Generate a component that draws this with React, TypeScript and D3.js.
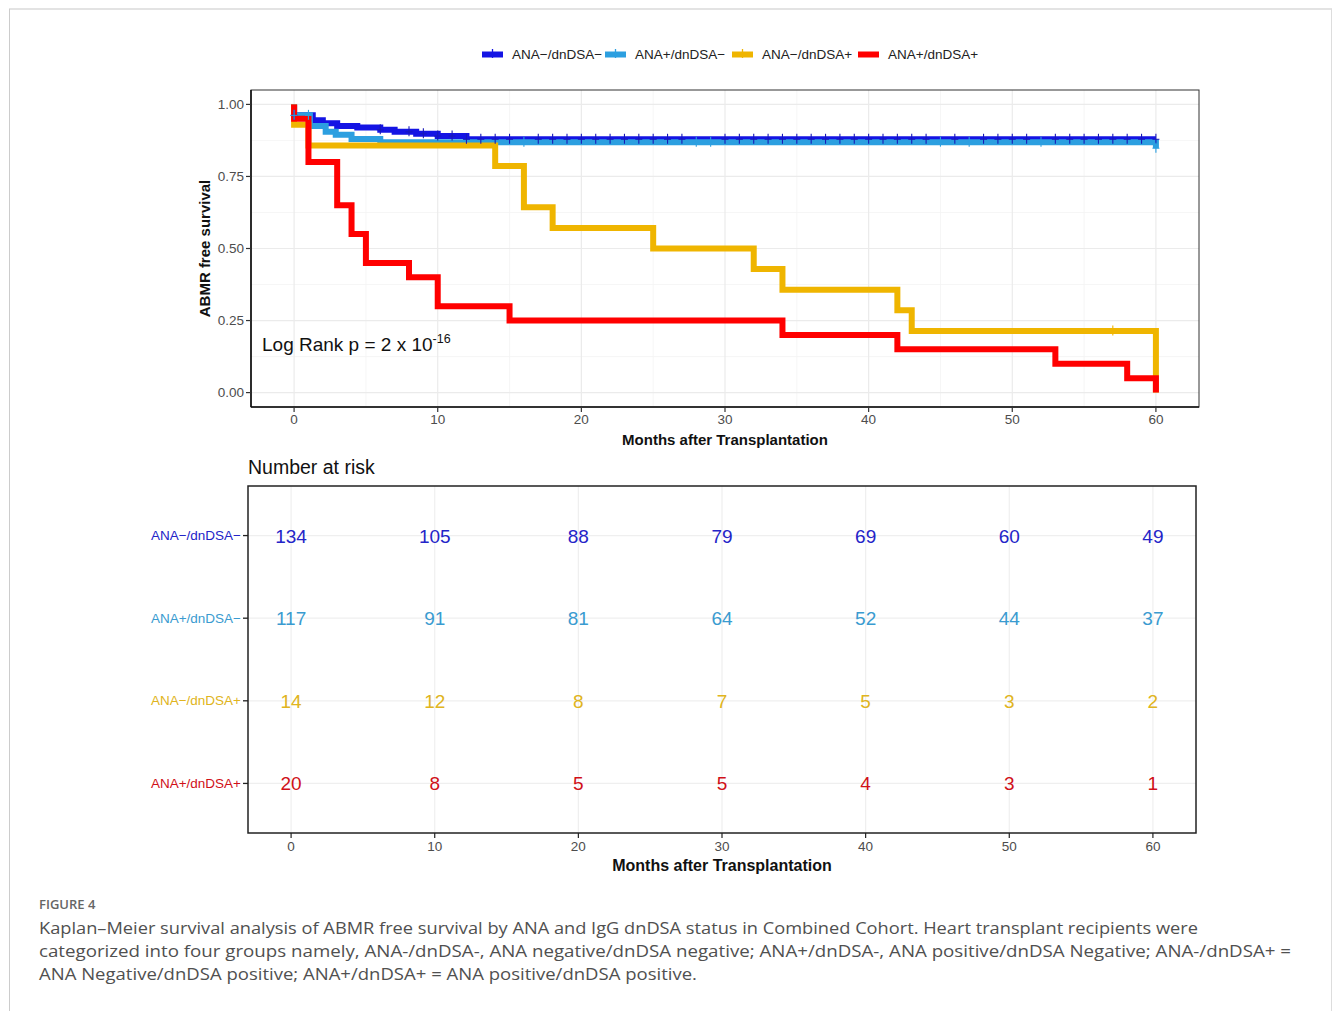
import * as d3 from 'd3';

const groups = ['ANA−/dnDSA−', 'ANA+/dnDSA−', 'ANA−/dnDSA+', 'ANA+/dnDSA+'];
const lineColors = ['#1414e4', '#2c9fe0', '#efb500', '#ff0000'];
const textColors = ['#2424c8', '#3a9bd0', '#e0b420', '#d01018'];

// event times (months) and survival right after each step
const blueTimes = [0, 1.3, 2, 3, 4.4, 6, 7, 8.5, 10, 12];
const blueSurv = [0.962, 0.945, 0.935, 0.925, 0.92, 0.912, 0.905, 0.898, 0.89, 0.879];
const lightTimes = [0, 1.1, 2.2, 2.9, 4, 6, 60];
const lightSurv = [0.962, 0.925, 0.905, 0.895, 0.88, 0.869, 0.848];
const yellowTimes = [0, 1, 14, 16, 18, 25, 32, 34, 42, 43, 60];
const yellowSurv = [0.929, 0.857, 0.786, 0.643, 0.571, 0.5, 0.429, 0.357, 0.286, 0.214, 0];
const redTimes = [0, 1, 3, 4, 5, 8, 10, 15, 34, 42, 53, 58, 60];
const redSurv = [0.95, 0.8, 0.65, 0.55, 0.45, 0.4, 0.3, 0.25, 0.2, 0.15, 0.1, 0.05, 0];

// censoring marks
const blueCensor = [0, 6, 8, 9, 10, 11, 12, 13, 14, 15, 17, 18, 19, 20, 21, 22, 23, 24, 25, 26, 27,
  30, 31, 32, 33, 34, 35, 36, 37, 38, 39, 40, 41, 42, 43, 44, 46, 48, 49, 50, 51, 53, 54, 55, 56, 57, 58, 59, 60];
const lightCensor = [0, 1, 16, 28, 29, 45, 47, 52, 60];
const yellowCensor = [57];
const redCensor: number[] = [];

const xTicks = [0, 10, 20, 30, 40, 50, 60];
const yTicks = [0, 0.25, 0.5, 0.75, 1];

// number at risk
const riskTimes = [0, 10, 20, 30, 40, 50, 60];
const riskBlue = [134, 105, 88, 79, 69, 60, 49];
const riskLight = [117, 91, 81, 64, 52, 44, 37];
const riskYellow = [14, 12, 8, 7, 5, 3, 2];
const riskRed = [20, 8, 5, 5, 4, 3, 1];

const captionTitle = 'FIGURE 4';
const captionLines = [
  'Kaplan–Meier survival analysis of ABMR free survival by ANA and IgG dnDSA status in Combined Cohort. Heart transplant recipients were',
  'categorized into four groups namely, ANA-/dnDSA-, ANA negative/dnDSA negative; ANA+/dnDSA-, ANA positive/dnDSA Negative; ANA-/dnDSA+ =',
  'ANA Negative/dnDSA positive; ANA+/dnDSA+ = ANA positive/dnDSA positive.',
];

const W = 1333;
const H = 1011;
const FONT = '"Liberation Sans", Arial, sans-serif';

export default function App() {
  const series = [
    { times: blueTimes, surv: blueSurv, censor: blueCensor },
    { times: lightTimes, surv: lightSurv, censor: lightCensor },
    { times: yellowTimes, surv: yellowSurv, censor: yellowCensor },
    { times: redTimes, surv: redSurv, censor: redCensor },
  ];
  const risk = [riskBlue, riskLight, riskYellow, riskRed];

  // KM panel
  const kmL = 251, kmR = 1199, kmT = 90, kmB = 407;
  const x = d3.scaleLinear().domain([-3, 63]).range([kmL, kmR]);
  const y = d3.scaleLinear().domain([-0.05, 1.05]).range([kmB, kmT]);

  // risk table panel
  const rtL = 248, rtR = 1196, rtT = 486, rtB = 833;
  const xr = d3.scaleLinear().domain([-3, 63]).range([rtL, rtR]);
  const yr = d3.scaleLinear().domain([0.4, 4.6]).range([rtT, rtB]);

  const stepPath = (times: number[], surv: number[]) => {
    let d = `M${x(0)},${y(1)}`;
    times.forEach((t, i) => { d += `H${x(t)}V${y(surv[i])}`; });
    d += `H${x(60)}`;
    return d;
  };
  const survAt = (times: number[], surv: number[], t: number) => {
    let s = 1;
    times.forEach((tt, i) => { if (tt <= t) s = surv[i]; });
    return s;
  };

  const minorX = d3.range(5, 60, 10);
  const minorY = [0.125, 0.375, 0.625, 0.875];

  const legendX = [482, 605, 732, 858];

  return (
    <div style={{ position: 'absolute', left: 0, top: 0 }}>
      <svg width={W} height={H} style={{ display: 'block', background: '#fff' }} fontFamily={FONT}>
        {/* outer frame */}
        <line x1={9} x2={1332} y1={9} y2={9} stroke="#e3e3e3" strokeWidth={2} />
        <line x1={9.5} x2={9.5} y1={9} y2={H} stroke="#cccccc" strokeWidth={1} />
        <line x1={1331.5} x2={1331.5} y1={9} y2={H} stroke="#dddddd" strokeWidth={1} />

        {/* legend */}
        {groups.map((g, i) => (
          <g key={g}>
            <line x1={legendX[i]} x2={legendX[i] + 21} y1={54.5} y2={54.5} stroke={lineColors[i]} strokeWidth={6} />
            {i < 3 && (
              <line x1={legendX[i] + 10.5} x2={legendX[i] + 10.5} y1={49} y2={58} stroke={lineColors[i]} strokeWidth={1.3} />
            )}
            <text x={legendX[i] + 30} y={58.5} fontSize={13.5} fill="#222">{g}</text>
          </g>
        ))}

        {/* KM gridlines */}
        {minorX.map(t => (
          <line key={'mx' + t} x1={x(t)} x2={x(t)} y1={kmT} y2={kmB} stroke="#f4f4f4" strokeWidth={0.8} />
        ))}
        {minorY.map(v => (
          <line key={'my' + v} x1={kmL} x2={kmR} y1={y(v)} y2={y(v)} stroke="#f4f4f4" strokeWidth={0.8} />
        ))}
        {xTicks.map(t => (
          <line key={'gx' + t} x1={x(t)} x2={x(t)} y1={kmT} y2={kmB} stroke="#ebebeb" strokeWidth={1.2} />
        ))}
        {yTicks.map(v => (
          <line key={'gy' + v} x1={kmL} x2={kmR} y1={y(v)} y2={y(v)} stroke="#ebebeb" strokeWidth={1.2} />
        ))}

        {/* survival curves */}
        {series.map((s, i) => (
          <path key={'c' + i} d={stepPath(s.times, s.surv)} fill="none" stroke={lineColors[i]}
            strokeWidth={6} strokeLinejoin="miter" strokeLinecap="butt" />
        ))}
        {series.map((s, i) => (
          <g key={'cs' + i}>
            {s.censor.map(t => {
              const cx = x(t), cy = y(survAt(s.times, s.surv, t));
              const c = i === 0 ? '#1818b8' : lineColors[i];
              return (
                <g key={t}>
                  <line x1={cx} x2={cx} y1={cy - 5.5} y2={cy + 4.5} stroke={c} strokeWidth={1.1} />
                  <line x1={cx - 3.5} x2={cx + 3.5} y1={cy} y2={cy} stroke={c} strokeWidth={1} />
                </g>
              );
            })}
          </g>
        ))}

        {/* KM frame and axes */}
        <rect x={kmL} y={kmT} width={kmR - kmL} height={kmB - kmT} fill="none" stroke="#333" strokeWidth={1} />
        <line x1={kmL} x2={kmL} y1={kmT} y2={kmB} stroke="#111" strokeWidth={1.6} />
        <line x1={kmL} x2={kmR} y1={kmB} y2={kmB} stroke="#111" strokeWidth={1.6} />
        {yTicks.map(v => (
          <g key={'yt' + v}>
            <line x1={kmL - 5} x2={kmL} y1={y(v)} y2={y(v)} stroke="#333" strokeWidth={1.2} />
            <text x={kmL - 7} y={y(v) + 4.5} textAnchor="end" fontSize={13.5} fill="#4d4d4d">{v.toFixed(2)}</text>
          </g>
        ))}
        {xTicks.map(t => (
          <g key={'xt' + t}>
            <line x1={x(t)} x2={x(t)} y1={kmB} y2={kmB + 5} stroke="#333" strokeWidth={1.2} />
            <text x={x(t)} y={kmB + 17} textAnchor="middle" fontSize={13.5} fill="#4d4d4d">{t}</text>
          </g>
        ))}
        <text x={725} y={445} textAnchor="middle" fontSize={15} fontWeight="bold" fill="#111">Months after Transplantation</text>
        <text transform={`translate(210,${(kmT + kmB) / 2}) rotate(-90)`} textAnchor="middle" fontSize={15} fontWeight="bold" fill="#111">ABMR free survival</text>
        <text x={262} y={351} fontSize={19} fill="#111">
          Log Rank p = 2 x 10<tspan dy={-8} fontSize={12.5}>-16</tspan>
        </text>

        {/* number at risk table */}
        <text x={248} y={474} fontSize={19.5} fill="#111">Number at risk</text>
        {riskTimes.map(t => (
          <line key={'rgx' + t} x1={xr(t)} x2={xr(t)} y1={rtT} y2={rtB} stroke="#efefef" strokeWidth={1.2} />
        ))}
        {groups.map((g, i) => (
          <line key={'rgy' + i} x1={rtL} x2={rtR} y1={yr(i + 1)} y2={yr(i + 1)} stroke="#efefef" strokeWidth={1.2} />
        ))}
        <rect x={rtL} y={rtT} width={rtR - rtL} height={rtB - rtT} fill="none" stroke="#222" strokeWidth={1.5} />
        {groups.map((g, i) => (
          <g key={'rl' + i}>
            <line x1={rtL - 5} x2={rtL} y1={yr(i + 1)} y2={yr(i + 1)} stroke="#222" strokeWidth={1.3} />
            <text x={rtL - 7} y={yr(i + 1) + 4.5} textAnchor="end" fontSize={13.5} fill={textColors[i]}>{g}</text>
            {riskTimes.map((t, j) => (
              <text key={t} x={xr(t)} y={yr(i + 1) + 7} textAnchor="middle" fontSize={19} fill={textColors[i]}>{risk[i][j]}</text>
            ))}
          </g>
        ))}
        {riskTimes.map(t => (
          <g key={'rxt' + t}>
            <line x1={xr(t)} x2={xr(t)} y1={rtB} y2={rtB + 5} stroke="#222" strokeWidth={1.2} />
            <text x={xr(t)} y={rtB + 18} textAnchor="middle" fontSize={13.5} fill="#4d4d4d">{t}</text>
          </g>
        ))}
        <text x={722} y={871} textAnchor="middle" fontSize={16} fontWeight="bold" fill="#111">Months after Transplantation</text>

        {/* caption */}
        <text x={39} y={909} fontSize={13} fill="#666" fontFamily='"Open Sans", sans-serif' fontWeight={600}>{captionTitle}</text>
        {captionLines.map((line, i) => (
          <text key={i} x={39} y={934 + i * 23} fontSize={16.5} fill="#505050" fontFamily='"Open Sans", sans-serif'
            textLength={[1159, 1252, 658][i]} lengthAdjust="spacingAndGlyphs">{line}</text>
        ))}
      </svg>
    </div>
  );
}
